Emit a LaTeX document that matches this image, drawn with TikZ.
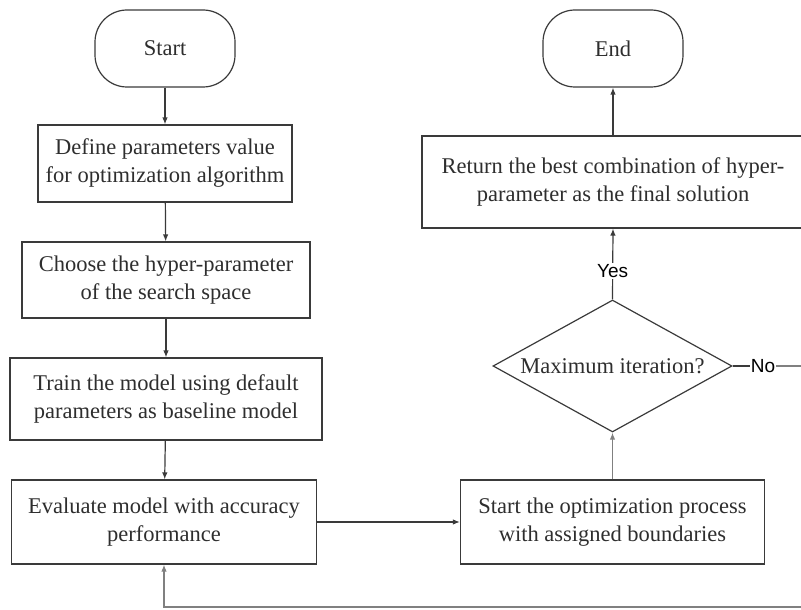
\documentclass[tikz,border=0pt]{standalone}
\usepackage{fontspec}
\setmainfont{Liberation Serif}
\newfontfamily\sansf{Liberation Sans}
\usetikzlibrary{shapes.geometric,arrows.meta}
\definecolor{linec}{HTML}{3A3A3A}
\definecolor{grayc}{HTML}{808080}
\definecolor{textc}{HTML}{2E2E2E}
\tikzset{
  boxs/.style={draw=linec, line width=1.2pt, rectangle, align=center, inner sep=0pt,
    text=textc, font=\fontsize{22.5}{28}\selectfont},
  terms/.style={boxs, rounded corners=32pt, minimum width=140pt, minimum height=77pt},
  decs/.style={draw=linec, line width=1.2pt, diamond, shape aspect=1.81, align=center, inner sep=0pt,
    minimum width=239pt, minimum height=132pt, text=textc, font=\fontsize{22.5}{28}\selectfont},
  arr/.style={draw=linec, line width=1.2pt, -{Latex[length=7pt,width=5.5pt]}},
  garr/.style={draw=grayc, line width=1.2pt, -{Latex[length=7pt,width=5.5pt]}},
  lab/.style={font=\sansf\fontsize{19}{22}\selectfont, text=black, inner sep=1pt, fill=white},
}
\begin{document}
\begin{tikzpicture}[x=1pt,y=-1pt]
\useasboundingbox (0,0) rectangle (801,610);
\node[terms] (start) at (165,48.5) {Start};
\node[boxs, minimum width=254pt, minimum height=77pt] (b1) at (165,163.5)
  {Define parameters value\\for optimization algorithm};
\node[boxs, minimum width=288pt, minimum height=76pt] (b2) at (166,280)
  {Choose the hyper-parameter\\of the search space};
\node[boxs, minimum width=312pt, minimum height=82pt] (b3) at (166,399)
  {Train the model using default\\parameters as baseline model};
\node[boxs, minimum width=305pt, minimum height=84pt] (b4) at (164,522)
  {Evaluate model with accuracy\\performance};
\node[boxs, minimum width=304pt, minimum height=84pt] (opt) at (612.5,522)
  {Start the optimization process\\with assigned boundaries};
\node[decs] (dia) at (612.5,366) {Maximum iteration?};
\node[boxs, minimum width=382pt, minimum height=92pt] (ret) at (613,182)
  {Return the best combination of hyper-\\parameter as the final solution};
\node[terms] (end) at (613,48.5) {End};
\node[lab, fill=none] (no) at (763,366) {No};
\coordinate (rc) at (806,366);
\coordinate (bc) at (806,607);

\draw[arr] (start) -- (b1);
\draw[arr] (b1) -- (b2);
\draw[arr] (b2) -- (b3);
\draw[arr] (b3) -- (b4);
\draw[arr] (b4.east) -- (opt.west);
\draw[garr] (opt) -- (dia);
\draw[arr] (dia.north) -- (ret.south) node[lab, pos=0.4] {Yes};
\draw[arr] (ret) -- (end);
\draw[draw=linec, line width=1.2pt] (dia.east) -- (no.west);
\draw[garr] (no.east) -- (rc) -- (bc) -| (b4.south);
\end{tikzpicture}
\end{document}
